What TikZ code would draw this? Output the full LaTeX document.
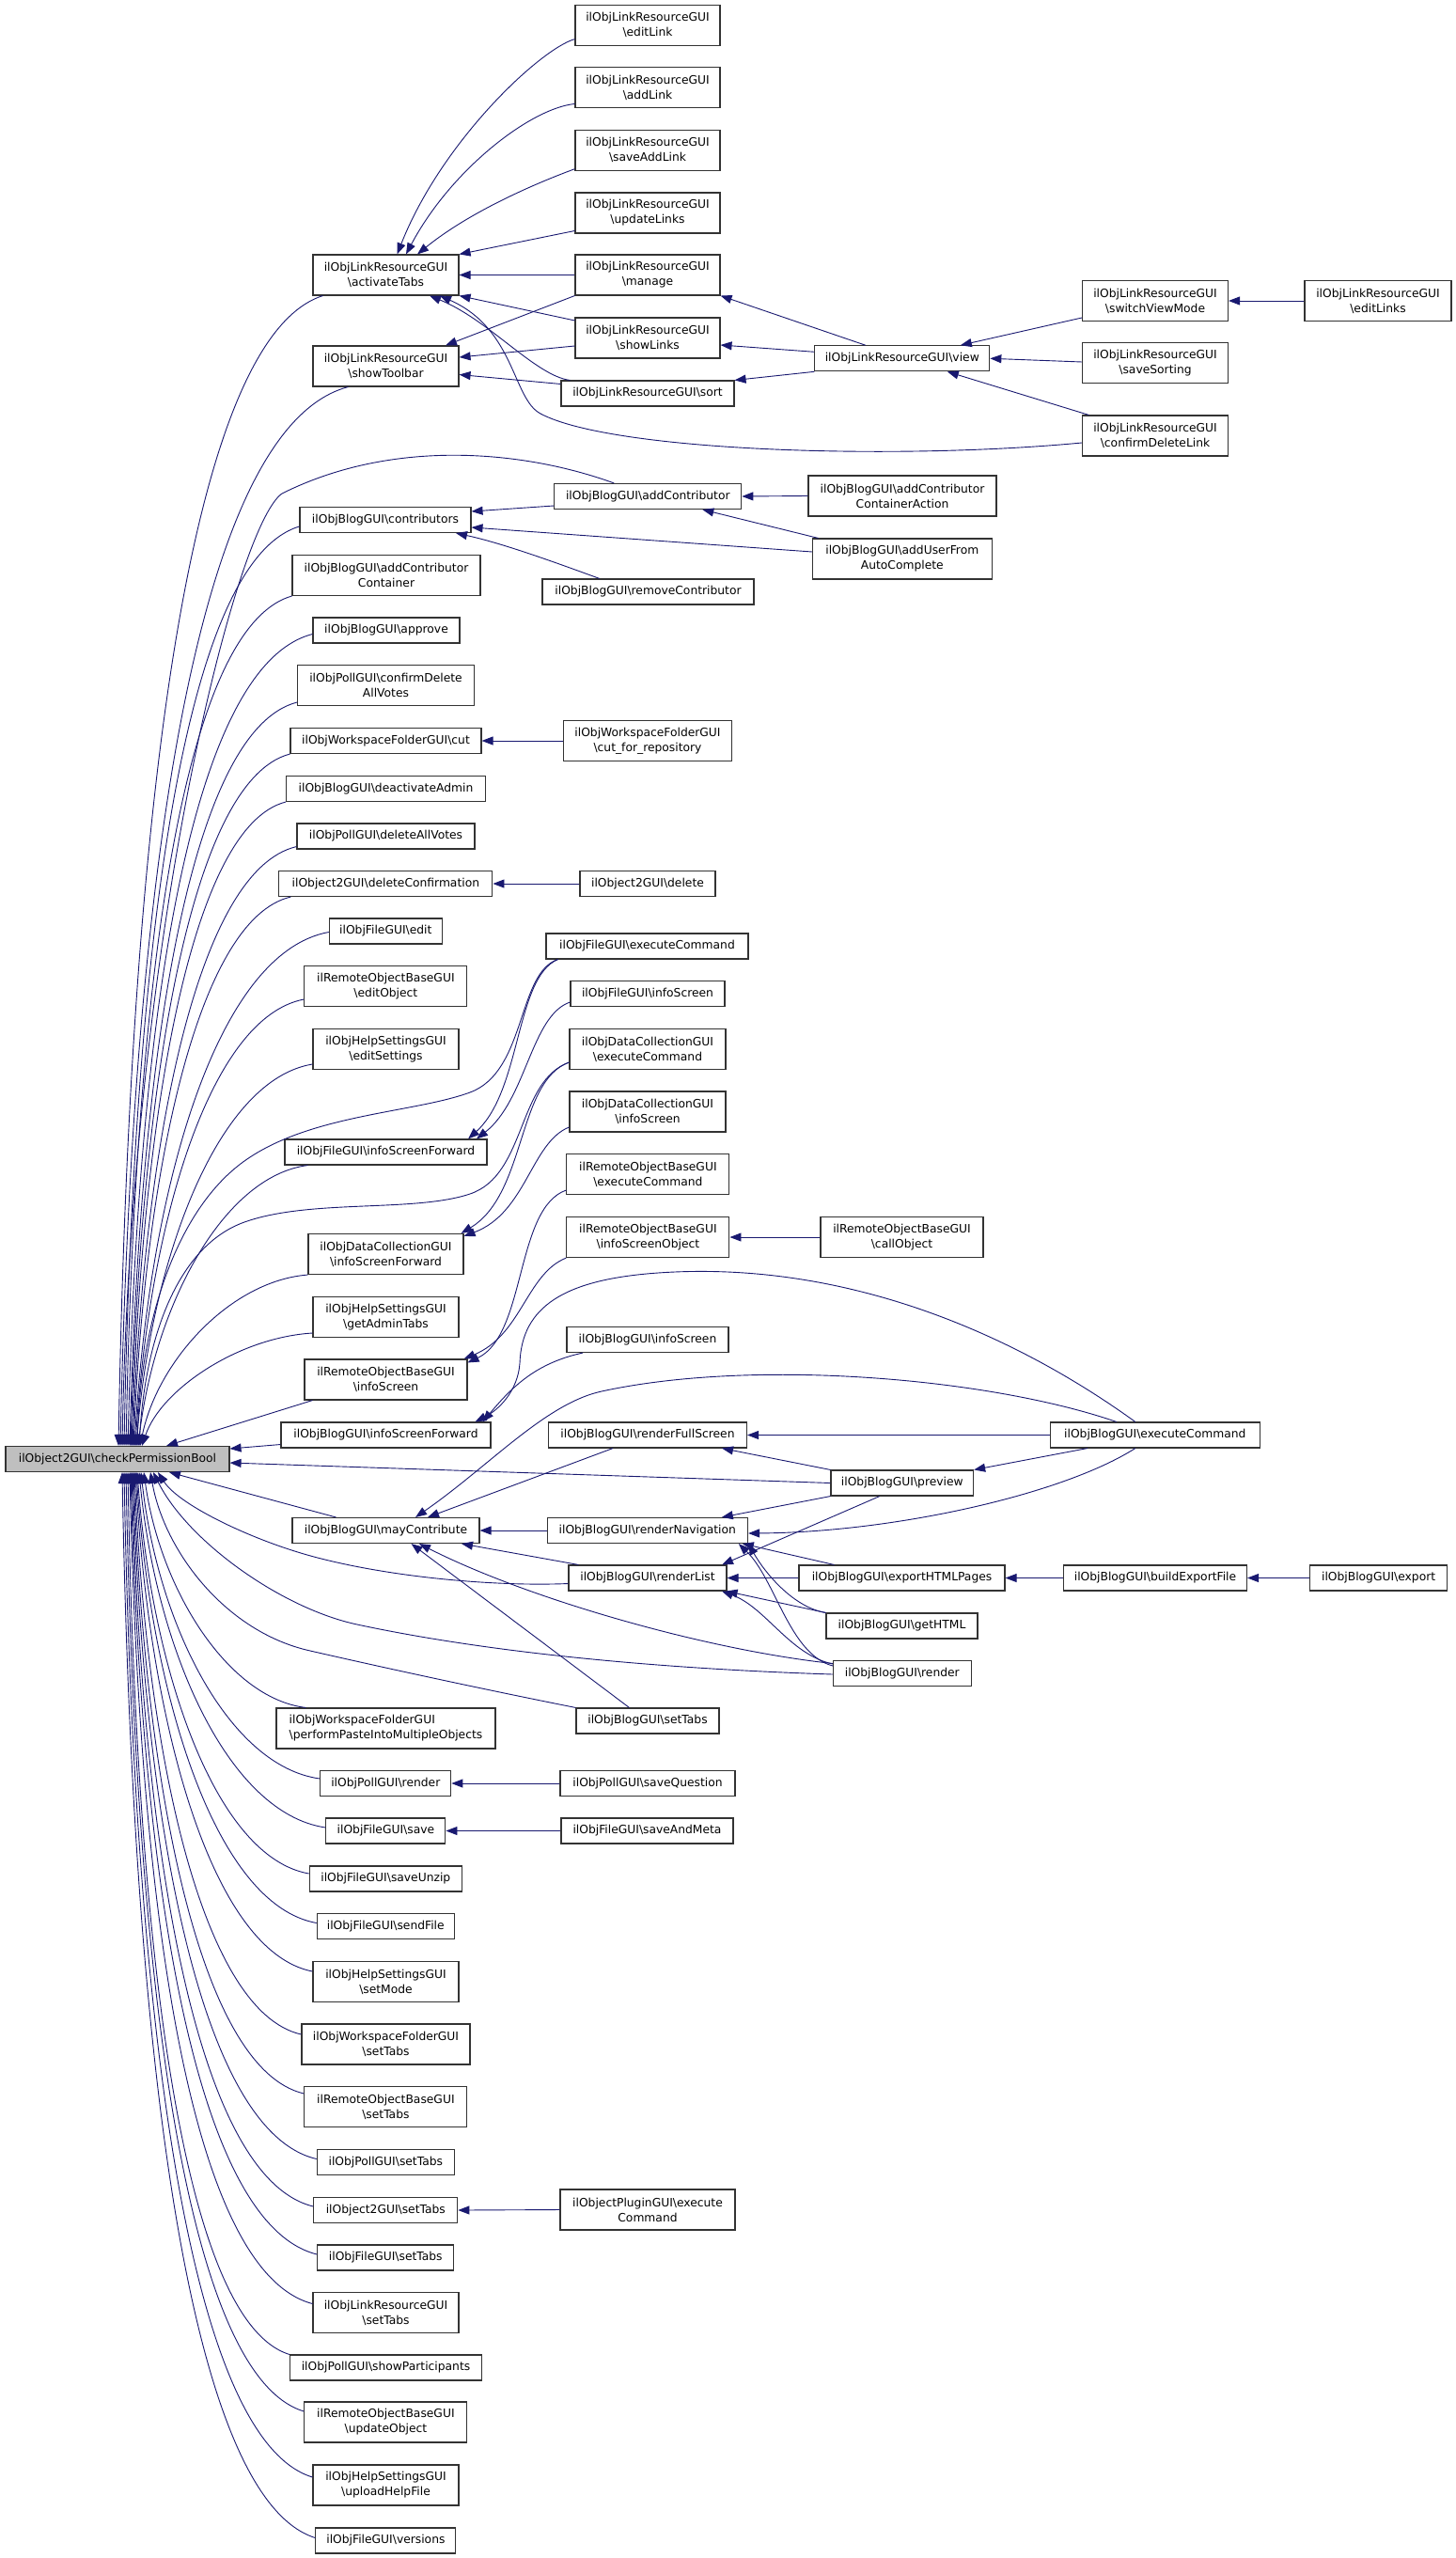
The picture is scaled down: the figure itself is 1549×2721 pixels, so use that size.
\documentclass[tikz,border=0pt]{standalone}
\usepackage{fontspec}
\setmainfont{DejaVu Sans}
\usetikzlibrary{arrows.meta}
\definecolor{navy}{RGB}{25,25,112}
\newcommand{\bsl}{\textbackslash}
\tikzset{
  fn/.style={draw=black!80, line width=1.1pt, fill=white, inner sep=0pt, minimum height=27pt, align=center, font=\fontsize{12.3}{16}\selectfont},
  fn2/.style={fn, minimum height=43pt},
  call/.style={draw=navy, line width=0.9pt, -{Stealth[length=12pt, width=9pt, inset=0pt]}},
}
\begin{document}
\begin{tikzpicture}[x=1pt, y=1pt]
		\useasboundingbox (0,0) rectangle (1549,-2721);

		% function that is called
		\node[fn, fill=black!25, minimum width=238] (cpb) at (125,-1552) {ilObject2GUI\bsl checkPermissionBool};

		% direct callers
		\node[fn2, minimum width=155] (actTabs) at (410.5,-292.5) {ilObjLinkResourceGUI\\\bsl activateTabs};
		\node[fn2, minimum width=155] (showTb) at (410.5,-389.5) {ilObjLinkResourceGUI\\\bsl showToolbar};
		\node[fn, minimum width=182] (contrib) at (410,-553) {ilObjBlogGUI\bsl contributors};
		\node[fn2, minimum width=200] (addContribCont) at (411,-612) {ilObjBlogGUI\bsl addContributor\\Container};
		\node[fn, minimum width=156] (approve) at (411,-670.5) {ilObjBlogGUI\bsl approve};
		\node[fn2, minimum width=188] (confDelVotes) at (410.5,-729) {ilObjPollGUI\bsl confirmDelete\\AllVotes};
		\node[fn, minimum width=203] (wfCut) at (410.5,-788) {ilObjWorkspaceFolderGUI\bsl cut};
		\node[fn, minimum width=212] (deactAdmin) at (410.5,-839) {ilObjBlogGUI\bsl deactivateAdmin};
		\node[fn, minimum width=189] (delVotes) at (410.5,-889.5) {ilObjPollGUI\bsl deleteAllVotes};
		\node[fn, minimum width=227] (delConf) at (410.4,-940) {ilObject2GUI\bsl deleteConfirmation};
		\node[fn, minimum width=120] (fileEdit) at (410.3,-990.5) {ilObjFileGUI\bsl edit};
		\node[fn2, minimum width=173] (roEditObj) at (410.4,-1049) {ilRemoteObjectBaseGUI\\\bsl editObject};
		\node[fn2, minimum width=155] (helpEditSet) at (410.5,-1116) {ilObjHelpSettingsGUI\\\bsl editSettings};
		\node[fn, minimum width=215] (fileISF) at (410.5,-1225.5) {ilObjFileGUI\bsl infoScreenForward};
		\node[fn2, minimum width=165] (dcISF) at (410.5,-1334) {ilObjDataCollectionGUI\\\bsl infoScreenForward};
		\node[fn2, minimum width=155] (helpAdminTabs) at (410.5,-1401) {ilObjHelpSettingsGUI\\\bsl getAdminTabs};
		\node[fn2, minimum width=173] (roInfo) at (410.5,-1467.5) {ilRemoteObjectBaseGUI\\\bsl infoScreen};
		\node[fn, minimum width=223] (blogISF) at (410.5,-1526.5) {ilObjBlogGUI\bsl infoScreenForward};
		\node[fn, minimum width=199] (mayContr) at (410.5,-1628) {ilObjBlogGUI\bsl mayContribute};
		\node[fn2, minimum width=233, align=left] (wfPaste) at (410.5,-1838.5) {ilObjWorkspaceFolderGUI\\\bsl performPasteIntoMultipleObjects};
		\node[fn, minimum width=139] (pollRender) at (410.3,-1897) {ilObjPollGUI\bsl render};
		\node[fn, minimum width=127] (fileSave) at (410.4,-1947.5) {ilObjFileGUI\bsl save};
		\node[fn, minimum width=162] (fileUnzip) at (410.3,-1998.5) {ilObjFileGUI\bsl saveUnzip};
		\node[fn, minimum width=146] (fileSend) at (410.3,-2049) {ilObjFileGUI\bsl sendFile};
		\node[fn2, minimum width=155] (helpMode) at (410.5,-2108) {ilObjHelpSettingsGUI\\\bsl setMode};
		\node[fn2, minimum width=179] (wfTabs) at (410.5,-2174.5) {ilObjWorkspaceFolderGUI\\\bsl setTabs};
		\node[fn2, minimum width=173] (roTabs) at (410.4,-2241) {ilRemoteObjectBaseGUI\\\bsl setTabs};
		\node[fn, minimum width=146] (pollTabs) at (410.3,-2300) {ilObjPollGUI\bsl setTabs};
		\node[fn, minimum width=153] (objTabs) at (410.3,-2351) {ilObject2GUI\bsl setTabs};
		\node[fn, minimum width=145] (fileTabs) at (410.3,-2401.5) {ilObjFileGUI\bsl setTabs};
		\node[fn2, minimum width=155] (lrTabs) at (410.5,-2460) {ilObjLinkResourceGUI\\\bsl setTabs};
		\node[fn, minimum width=204] (pollPart) at (410.5,-2518.5) {ilObjPollGUI\bsl showParticipants};
		\node[fn2, minimum width=173] (roUpdate) at (410.4,-2576.5) {ilRemoteObjectBaseGUI\\\bsl updateObject};
		\node[fn2, minimum width=155] (helpUpload) at (410.5,-2643.5) {ilObjHelpSettingsGUI\\\bsl uploadHelpFile};
		\node[fn, minimum width=149] (fileVersions) at (410.4,-2702.5) {ilObjFileGUI\bsl versions};

		% second column
		\node[fn2, minimum width=154] (editLink) at (689,-26.6) {ilObjLinkResourceGUI\\\bsl editLink};
		\node[fn2, minimum width=154] (addLink) at (689,-93) {ilObjLinkResourceGUI\\\bsl addLink};
		\node[fn2, minimum width=154] (saveAddLink) at (689,-159.7) {ilObjLinkResourceGUI\\\bsl saveAddLink};
		\node[fn2, minimum width=154] (updLinks) at (689,-226.5) {ilObjLinkResourceGUI\\\bsl updateLinks};
		\node[fn2, minimum width=154] (manage) at (689,-292.5) {ilObjLinkResourceGUI\\\bsl manage};
		\node[fn2, minimum width=154] (showLinks) at (689,-359.5) {ilObjLinkResourceGUI\\\bsl showLinks};
		\node[fn, minimum width=184] (lrSort) at (689,-418.5) {ilObjLinkResourceGUI\bsl sort};
		\node[fn, minimum width=199] (addContr) at (689.3,-528) {ilObjBlogGUI\bsl addContributor};
		\node[fn, minimum width=225] (remContr) at (689.5,-629.5) {ilObjBlogGUI\bsl removeContributor};
		\node[fn2, minimum width=179] (wfCutRepo) at (689,-788) {ilObjWorkspaceFolderGUI\\\bsl cut\_for\_repository};
		\node[fn, minimum width=144] (objDelete) at (689,-940) {ilObject2GUI\bsl delete};
		\node[fn, minimum width=215] (fileExec) at (688.5,-1006.5) {ilObjFileGUI\bsl executeCommand};
		\node[fn, minimum width=164] (fileInfo) at (689,-1057) {ilObjFileGUI\bsl infoScreen};
		\node[fn2, minimum width=166] (dcExec) at (689,-1116) {ilObjDataCollectionGUI\\\bsl executeCommand};
		\node[fn2, minimum width=166] (dcInfo) at (689,-1182.5) {ilObjDataCollectionGUI\\\bsl infoScreen};
		\node[fn2, minimum width=173] (roExec) at (689.4,-1249) {ilRemoteObjectBaseGUI\\\bsl executeCommand};
		\node[fn2, minimum width=173] (roInfoObj) at (689.4,-1316) {ilRemoteObjectBaseGUI\\\bsl infoScreenObject};
		\node[fn, minimum width=172] (blogInfo) at (689,-1425) {ilObjBlogGUI\bsl infoScreen};
		\node[fn, minimum width=211] (renderFS) at (689,-1526.5) {ilObjBlogGUI\bsl renderFullScreen};
		\node[fn, minimum width=213.5] (renderNav) at (688.8,-1628) {ilObjBlogGUI\bsl renderNavigation};
		\node[fn, minimum width=168] (renderList) at (689,-1678.5) {ilObjBlogGUI\bsl renderList};
		\node[fn, minimum width=152] (blogTabs) at (689,-1830.5) {ilObjBlogGUI\bsl setTabs};
		\node[fn, minimum width=186] (pollSaveQ) at (689,-1897) {ilObjPollGUI\bsl saveQuestion};
		\node[fn, minimum width=183] (fileSaveMeta) at (688.5,-1947.5) {ilObjFileGUI\bsl saveAndMeta};
		\node[fn2, minimum width=186] (pluginExec) at (689,-2350.5) {ilObjectPluginGUI\bsl execute\\Command};

		% third column
		\node[fn, minimum width=186] (lrView) at (959.8,-381.3) {ilObjLinkResourceGUI\bsl view};
		\node[fn2, minimum width=200] (addContrAction) at (960,-527.5) {ilObjBlogGUI\bsl addContributor\\ContainerAction};
		\node[fn2, minimum width=190.5] (addUserAC) at (959.8,-594.5) {ilObjBlogGUI\bsl addUserFrom\\AutoComplete};
		\node[fn2, minimum width=173] (roCall) at (959.5,-1316) {ilRemoteObjectBaseGUI\\\bsl callObject};
		\node[fn, minimum width=151.6] (preview) at (959.8,-1577.5) {ilObjBlogGUI\bsl preview};
		\node[fn, minimum width=219] (exportPages) at (959.5,-1678.5) {ilObjBlogGUI\bsl exportHTMLPages};
		\node[fn, minimum width=161] (getHTML) at (959.5,-1729.5) {ilObjBlogGUI\bsl getHTML};
		\node[fn, minimum width=146.5] (blogRender) at (959.8,-1780) {ilObjBlogGUI\bsl render};

		% fourth and fifth column
		\node[fn2, minimum width=155] (switchView) at (1229,-320) {ilObjLinkResourceGUI\\\bsl switchViewMode};
		\node[fn2, minimum width=155] (saveSorting) at (1229,-386) {ilObjLinkResourceGUI\\\bsl saveSorting};
		\node[fn2, minimum width=155] (confDelLink) at (1229,-463.5) {ilObjLinkResourceGUI\\\bsl confirmDeleteLink};
		\node[fn, minimum width=223.5] (blogExec) at (1228.8,-1526.5) {ilObjBlogGUI\bsl executeCommand};
		\node[fn, minimum width=195] (buildExport) at (1229,-1678.5) {ilObjBlogGUI\bsl buildExportFile};
		\node[fn2, minimum width=156] (editLinks) at (1466,-320) {ilObjLinkResourceGUI\\\bsl editLinks};
		\node[fn, minimum width=146] (blogExport) at (1466.6,-1678.5) {ilObjBlogGUI\bsl export};

		% calls into checkPermissionBool from above
		\draw[call] ([xshift=11pt]actTabs.south west) .. controls (191.4,-363) and (136.9,-926.5) .. ([xshift=1pt]cpb.north);
		\draw[call] ([xshift=38pt]showTb.south west) .. controls (200.9,-456.1) and (140.2,-975) .. ([xshift=3pt]cpb.north);
		\draw[call] ([xshift=-36pt]addContr.north) .. controls (560,-480) and (420,-465) .. (300,-525) .. controls (250,-560) and (140,-1000) .. ([xshift=5pt]cpb.north);
		\draw[call] ([yshift=-7pt]contrib.west) .. controls (188.1,-599.2) and (141.4,-1049.5) .. ([xshift=7pt]cpb.north);
		\draw[call] (addContribCont.south west) .. controls (187.1,-669.2) and (142.9,-1086) .. ([xshift=9pt]cpb.north);
		\draw[call] ([yshift=-4pt]approve.west) .. controls (197.5,-709.1) and (146.4,-1106.8) .. ([xshift=11pt]cpb.north);
		\draw[call] ([yshift=4pt]confDelVotes.south west) .. controls (198,-777.7) and (148.4,-1142.5) .. ([xshift=13pt]cpb.north);
		\draw[call] (wfCut.south west) .. controls (199.2,-830.5) and (149.6,-1170) .. ([xshift=14pt]cpb.north);
		\draw[call] (deactAdmin.south west) .. controls (201,-879.5) and (151,-1195.5) .. ([xshift=15pt]cpb.north);
		\draw[call] ([yshift=3pt]delVotes.south west) .. controls (208.7,-925.6) and (153.3,-1219.5) .. ([xshift=16pt]cpb.north);
		\draw[call] ([xshift=13pt]delConf.south west) .. controls (210,-977) and (154.5,-1246.3) .. ([xshift=17pt]cpb.north);
		\draw[call] ([yshift=-1pt]fileEdit.west) .. controls (229.5,-1013.4) and (159,-1265.3) .. ([xshift=18pt]cpb.north);
		\draw[call] ([yshift=-14pt]roEditObj.west) .. controls (223.2,-1082) and (158.9,-1301) .. ([xshift=19pt]cpb.north);
		\draw[call] ([yshift=-16pt]helpEditSet.west) .. controls (232.3,-1148.3) and (161.6,-1335.5) .. ([xshift=20pt]cpb.north);
		\draw[call] ([xshift=13pt]fileExec.south west) .. controls (550,-1035) and (560,-1140) .. (500,-1162) .. controls (440,-1184) and (330,-1185) .. (260,-1235) .. controls (190,-1285) and (150,-1400) .. ([xshift=21pt]cpb.north);
		\draw[call] ([xshift=25pt]fileISF.south west) .. controls (237.5,-1251) and (164.5,-1389) .. ([xshift=22pt]cpb.north);
		\draw[call] ([yshift=-14pt]dcExec.west) .. controls (550,-1150) and (560,-1250) .. (500,-1270) .. controls (440,-1290) and (330,-1275) .. (260,-1300) .. controls (190,-1325) and (155,-1420) .. ([xshift=23pt]cpb.north);
		\draw[call] (dcISF.south west) .. controls (245.5,-1362.4) and (167.9,-1447) .. ([xshift=24pt]cpb.north);
		\draw[call] ([yshift=-17pt]helpAdminTabs.west) .. controls (252.9,-1422.8) and (171.1,-1478.5) .. ([xshift=26pt]cpb.north);
		\draw[call] ([xshift=9pt]roInfo.south west) -- ([xshift=52pt]cpb.north);

		% from the right
		\draw[call] ([yshift=-10pt]blogISF.west) -- ([yshift=11pt]cpb.east);
		\draw[call] (preview.west) -- ([yshift=-4pt]cpb.east);

		% from below
		\draw[call] ([xshift=47pt]mayContr.north west) -- ([xshift=55pt]cpb.south);
		\draw[call] ([yshift=-6pt]renderList.west) .. controls (520,-1688) and (400,-1676) .. (320,-1652) .. controls (260,-1634) and (190,-1600) .. ([xshift=43pt]cpb.south);
		\draw[call] ([yshift=-1pt]blogRender.west) .. controls (700,-1775) and (520,-1758) .. (380,-1728) .. controls (300,-1711) and (200,-1640) .. ([xshift=38pt]cpb.south);
		\draw[call] (blogTabs.north west) .. controls (500,-1794) and (400,-1772) .. (330,-1756) .. controls (240,-1736) and (175,-1650) .. ([xshift=35pt]cpb.south);
		\draw[call] ([xshift=32pt]wfPaste.north west) .. controls (242.3,-1806.4) and (170.4,-1690.75) .. ([xshift=28pt]cpb.south);
		\draw[call] ([yshift=5pt]pollRender.west) .. controls (243.6,-1878.9) and (168,-1728.5) .. ([xshift=25pt]cpb.south);
		\draw[call] ([yshift=3.5pt]fileSave.west) .. controls (242.3,-1928.8) and (166,-1754.5) .. ([xshift=23pt]cpb.south);
		\draw[call] ([yshift=5.5pt]fileUnzip.west) .. controls (229.6,-1975.9) and (161.9,-1779) .. ([xshift=21pt]cpb.south);
		\draw[call] ([yshift=3.5pt]fileSend.west) .. controls (229.5,-2026.3) and (160.9,-1805.25) .. ([xshift=20pt]cpb.south);
		\draw[call] ([yshift=11pt]helpMode.west) .. controls (223.9,-2075.7) and (158.9,-1831) .. ([xshift=19pt]cpb.south);
		\draw[call] ([yshift=10.5pt]wfTabs.west) .. controls (214.2,-2140) and (156.1,-1864.5) .. ([xshift=18pt]cpb.south);
		\draw[call] ([yshift=14pt]roTabs.west) .. controls (210.9,-2200.5) and (154.4,-1896) .. ([xshift=17pt]cpb.south);
		\draw[call] ([yshift=3.5pt]pollTabs.west) .. controls (210.8,-2267.2) and (153.4,-1930.75) .. ([xshift=16pt]cpb.south);
		\draw[call] ([yshift=4pt]objTabs.west) .. controls (205.8,-2315.7) and (151.5,-1956) .. ([xshift=15pt]cpb.south);
		\draw[call] ([yshift=3.5pt]fileTabs.west) .. controls (203.1,-2364.7) and (150,-1981.5) .. ([xshift=14pt]cpb.south);
		\draw[call] ([yshift=9.5pt]lrTabs.west) .. controls (197.5,-2415.1) and (148,-2007.75) .. ([xshift=13pt]cpb.south);
		\draw[call] (pollPart.north west) .. controls (187.75,-2467.4) and (144.6,-2035) .. ([xshift=11pt]cpb.south);
		\draw[call] ([yshift=11.5pt]roUpdate.west) .. controls (190.9,-2525) and (143.5,-2065) .. ([xshift=9pt]cpb.south);
		\draw[call] ([yshift=8.5pt]helpUpload.west) .. controls (192.3,-2592.2) and (142,-2100) .. ([xshift=7pt]cpb.south);
		\draw[call] ([yshift=3pt]fileVersions.west) .. controls (191.7,-2654.2) and (140.3,-2132.3) .. ([xshift=5pt]cpb.south);

		% link resource calls
		\draw[call] ([yshift=-15pt]editLink.west) .. controls (575,-52) and (470,-150) .. ([xshift=12pt]actTabs.north);
		\draw[call] ([yshift=-17.5pt]addLink.west) .. controls (565,-115) and (480,-180) .. ([xshift=21.5pt]actTabs.north);
		\draw[call] ([yshift=-20pt]saveAddLink.west) .. controls (570,-195) and (500,-225) .. ([xshift=33.5pt]actTabs.north);
		\draw[call] ([yshift=-19pt]updLinks.west) -- (actTabs.north east);
		\draw[call] (manage.west) -- (actTabs.east);
		\draw[call] ([yshift=-3.5pt]showLinks.north west) -- (actTabs.south east);
		\draw[call] ([xshift=10pt]lrSort.north west) .. controls (570,-400) and (520,-340) .. ([xshift=46.5pt]actTabs.south);
		\draw[call] ([yshift=-7.5pt]confDelLink.west) .. controls (950,-490) and (650,-480) .. (575,-440) .. controls (545,-424) and (548,-350) .. ([xshift=57.5pt]actTabs.south);
		\draw[call] (manage.south west) -- ([xshift=63.5pt]showTb.north);
		\draw[call] ([yshift=-8.5pt]showLinks.west) -- ([yshift=9.5pt]showTb.east);
		\draw[call] ([yshift=10pt]lrSort.west) -- ([yshift=-9pt]showTb.east);
		\draw[call] ([xshift=-39pt]lrView.north) -- (manage.south east);
		\draw[call] ([yshift=7pt]lrView.west) -- ([yshift=-7.5pt]showLinks.east);
		\draw[call] (lrView.south west) -- (lrSort.north east);
		\draw[call] ([yshift=-18pt]switchView.west) -- ([xshift=62pt]lrView.north);
		\draw[call] ([yshift=1pt]saveSorting.west) -- (lrView.east);
		\draw[call] ([xshift=7.5pt]confDelLink.north west) -- ([xshift=48pt]lrView.south);
		\draw[call] (editLinks.west) -- (switchView.east);

		% blog contributors
		\draw[call] ([yshift=-10pt]addContr.west) -- ([yshift=9pt]contrib.east);
		\draw[call] ([yshift=7.5pt]addUserAC.west) -- ([yshift=-8pt]contrib.east);
		\draw[call] ([xshift=-51.7pt]remContr.north) .. controls (590,-598) and (535,-578) .. ([xshift=75pt]contrib.south);
		\draw[call] (addContrAction.west) -- (addContr.east);
		\draw[call] ([xshift=6.5pt]addUserAC.north west) -- ([xshift=58pt]addContr.south);

		% middle part
		\draw[call] (wfCutRepo.west) -- (wfCut.east);
		\draw[call] (objDelete.west) -- (delConf.east);
		\draw[call] ([xshift=13pt]fileExec.south west) .. controls (548,-1040) and (555,-1160) .. ([xshift=87.5pt]fileISF.north);
		\draw[call] ([yshift=-9pt]fileInfo.west) .. controls (565,-1080) and (560,-1170) .. ([xshift=96.5pt]fileISF.north);
		\draw[call] ([yshift=-14pt]dcExec.west) .. controls (550,-1150) and (560,-1270) .. ([xshift=-3pt]dcISF.north east);
		\draw[call] ([yshift=-16.5pt]dcInfo.west) .. controls (565,-1215) and (560,-1290) .. ([yshift=-3pt]dcISF.north east);
		\draw[call] ([yshift=-17pt]roExec.west) .. controls (548,-1285) and (560,-1420) .. ([yshift=-4pt]roInfo.north east);
		\draw[call] (roInfoObj.south west) .. controls (560,-1355) and (555,-1420) .. ([xshift=-4pt]roInfo.north east);
		\draw[call] (roCall.west) -- (roInfoObj.east);
		\draw[call] ([xshift=17.5pt]blogInfo.south west) .. controls (570,-1450) and (545,-1475) .. ([xshift=-9pt]blogISF.north east);

		% blog rendering
		\draw[call] ([xshift=-21pt]blogExec.north) .. controls (1080,-1420) and (900,-1340) .. (700,-1354) .. controls (600,-1361) and (555,-1390) .. (553,-1450) .. controls (551,-1480) and (530,-1500) .. ([xshift=-17pt]blogISF.north east);
		\draw[call] ([xshift=-41pt]blogExec.north) .. controls (1050,-1465) and (800,-1445) .. (640,-1480) .. controls (580,-1493) and (520,-1560) .. ([xshift=31.5pt]mayContr.north);
		\draw[call] (blogExec.west) -- (renderFS.east);
		\draw[call] ([xshift=-72pt]blogExec.south) -- (preview.north east);
		\draw[call] ([xshift=-21pt]blogExec.south) .. controls (1130,-1590) and (950,-1630) .. ([yshift=-3pt]renderNav.east);
		\draw[call] (preview.north west) -- ([xshift=79pt]renderFS.south);
		\draw[call] (preview.south west) -- ([xshift=79pt]renderNav.north);
		\draw[call] ([xshift=-24pt]preview.south) -- ([xshift=79pt]renderList.north);
		\draw[call] ([xshift=-37pt]renderFS.south) -- ([xshift=44.5pt]mayContr.north);
		\draw[call] (renderNav.west) -- (mayContr.east);
		\draw[call] ([xshift=11pt]renderList.north west) -- ([xshift=80.5pt]mayContr.south);
		\draw[call] (exportPages.west) -- (renderList.east);
		\draw[call] ([xshift=38pt]exportPages.north west) -- ([xshift=101pt]renderNav.south);
		\draw[call] (getHTML.north west) -- ([xshift=-1pt]renderList.south east);
		\draw[call] (getHTML.north west) .. controls (845,-1710) and (815,-1675) .. (renderNav.south east);
		\draw[call] ([yshift=10pt]blogRender.west) .. controls (840,-1760) and (815,-1710) .. ([xshift=79pt]renderList.south);
		\draw[call] ([yshift=8pt]blogRender.west) .. controls (840,-1760) and (825,-1680) .. ([xshift=97pt]renderNav.south);
		\draw[call] ([yshift=10.5pt]blogRender.west) .. controls (750,-1755) and (560,-1700) .. ([xshift=35.5pt]mayContr.south);
		\draw[call] ([xshift=-19.5pt]blogTabs.north) -- ([xshift=27pt]mayContr.south);
		\draw[call] (buildExport.west) -- (exportPages.east);
		\draw[call] (blogExport.west) -- (buildExport.east);

		% lower part
		\draw[call] (pollSaveQ.west) -- (pollRender.east);
		\draw[call] (fileSaveMeta.west) -- (fileSave.east);
		\draw[call] (pluginExec.west) -- (objTabs.east);
	\end{tikzpicture}
\end{document}
